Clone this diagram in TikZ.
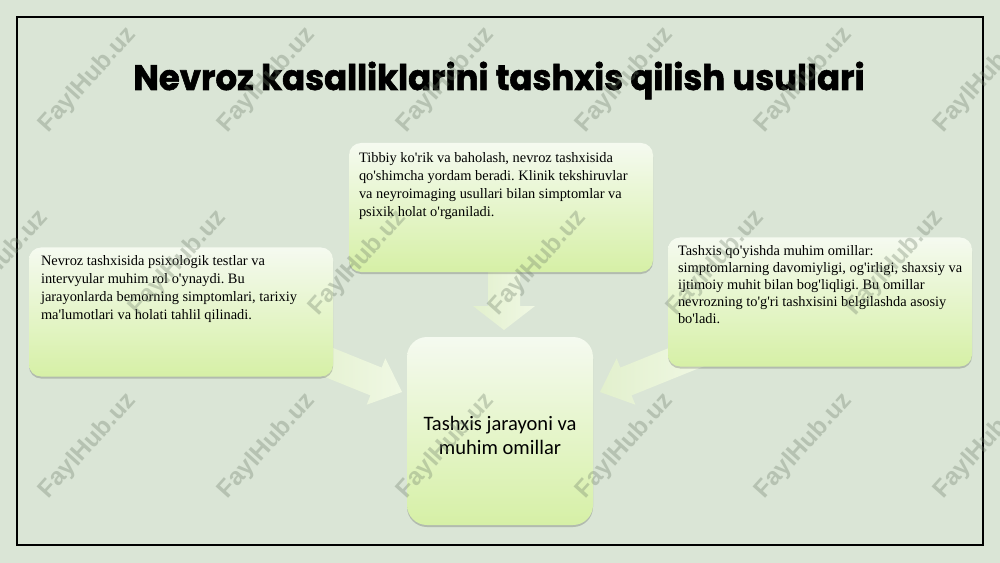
\documentclass[tikz,border=0pt]{standalone}
\usepackage{fontspec}
\setmainfont{Liberation Serif}[Ligatures=TeXOff]
\newfontfamily\titlefont{Poppins}[BoldFeatures={FakeBold=1.6}]
\newfontfamily\centerfont{Carlito}
\newfontfamily\wmfont{Liberation Sans}
\usetikzlibrary{shadows,calc}
\definecolor{bg}{RGB}{218,229,214}
\definecolor{boxtop}{RGB}{245,250,240}
\definecolor{boxbot}{RGB}{214,240,166}
\definecolor{arrowbase}{RGB}{226,240,205}
\definecolor{arrowtip}{RGB}{240,248,228}
\definecolor{wm}{RGB}{110,125,105}
\tikzset{
  pics/blockarrow/.style args={#1/#2/#3/#4}{code={
    \shade[left color=arrowbase, right color=arrowtip]
      (0,0) -- (-#4,#3) -- (-#4,#2) -- (-#1,#2) -- (-#1,-#2) -- (-#4,-#2) -- (-#4,-#3) -- cycle;
  }},
  textbox/.style={rounded corners=9pt, top color=boxtop, bottom color=boxbot, draw=none,
    minimum width=228pt, minimum height=96.75pt, inner sep=0pt,
    drop shadow={shadow xshift=0pt, shadow yshift=-1.5pt, opacity=0.18, fill=black}},
  centerbox/.style={rounded corners=15pt, top color=boxtop, bottom color=boxbot, draw=none,
    minimum width=139.5pt, minimum height=141pt, inner sep=0pt,
    drop shadow={shadow xshift=0pt, shadow yshift=-1.5pt, opacity=0.18, fill=black}},
  bodytext/.style={font=\frenchspacing\fontsize{10.8pt}{13.5pt}\selectfont, align=left, inner sep=0pt, anchor=north west},
  wmark/.style={rotate=48, font=\wmfont\bfseries\fontsize{18.5pt}{18.5pt}\selectfont, text=wm, text opacity=0.33, inner sep=0pt},
}
\begin{document}
\begin{tikzpicture}[x=0.75pt,y=-0.75pt]
\useasboundingbox (0,0) rectangle (1000,563);
\clip (0,0) rectangle (1000,563);
\fill[bg] (0,0) rectangle (1000,563);
\draw[line width=1.5pt, black] (17,17) rectangle (983,545);

\node[anchor=base, inner sep=0pt, font=\titlefont\bfseries\fontsize{26.5pt}{30pt}\selectfont] (title) at (499,90) {\scalebox{0.96}[1]{Nevroz kasalliklarini tashxis qilish usullari}};

% connector tips
\coordinate (tipT) at (504,330);
\coordinate (tipL) at (402,392);
\coordinate (tipR) at (600,392);
\pic[rotate=-90] at (tipT) {blockarrow={70/16/31/24}};
\pic[rotate=-22] at (tipL) {blockarrow={110/15/25/28}};
\pic[rotate=202] at (tipR) {blockarrow={110/15/25/28}};

% boxes
\node[textbox] (top) at (501,207.5) {};
\node[textbox] (left) at (181,312) {};
\node[textbox] (right) at (820,302) {};
\node[centerbox] (c) at (500,431) {};

\node[bodytext] (toptext) at ($(top.north west)+(10,9.2)$) {Tibbiy ko'rik va baholash, nevroz tashxisida\\qo'shimcha yordam beradi. Klinik tekshiruvlar\\va neyroimaging usullari bilan simptomlar va\\psixik holat o'rganiladi.};
\node[bodytext] (lefttext) at ($(left.north west)+(12,8.2)$) {Nevroz tashxisida psixologik testlar va\\intervyular muhim rol o'ynaydi. Bu\\jarayonlarda bemorning simptomlari, tarixiy\\ma'lumotlari va holati tahlil qilinadi.};
\node[bodytext, font=\frenchspacing\fontsize{10.8pt}{12.75pt}\selectfont] (righttext) at ($(right.north west)+(10,8.2)$) {Tashxis qo'yishda muhim omillar:\\simptomlarning davomiyligi, og'irligi, shaxsiy va\\ijtimoiy muhit bilan bog'liqligi. Bu omillar\\nevrozning to'g'ri tashxisini belgilashda asosiy\\bo'ladi.};
\node[font=\centerfont\fontsize{15.4pt}{18pt}\selectfont, align=center, inner sep=0pt] (ctext) at ($(c.center)+(0,4)$) {Tashxis jarayoni va\\muhim omillar};

% watermarks
\foreach \y in {80,446} {
  \foreach \x in {88,267,446,625,804,983} {
    \node[wmark] (wm-\x-\y) at (\x,\y) {FaylHub.uz};
  }
}
\foreach \x in {0,178,358,538,716,895} {
  \node[wmark] (wm-\x-263) at (\x,263) {FaylHub.uz};
}
\end{tikzpicture}
\end{document}
